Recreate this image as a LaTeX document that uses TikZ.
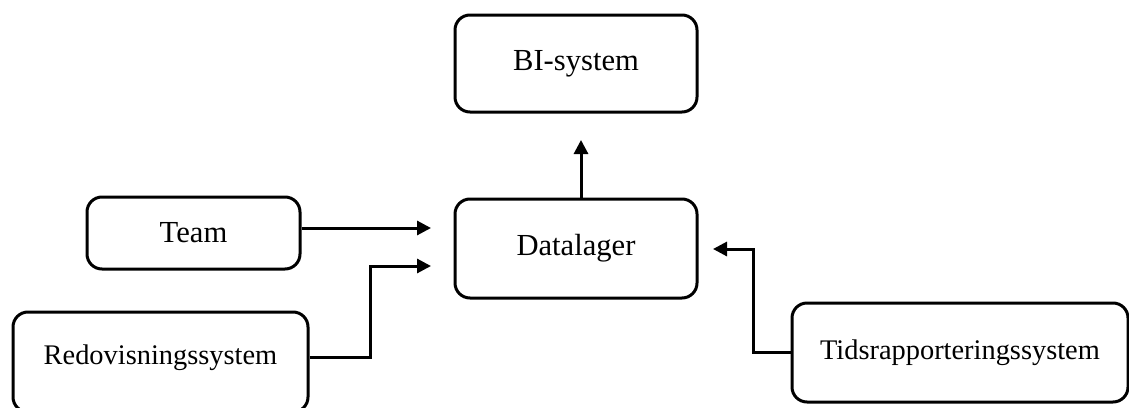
\documentclass[tikz,border=0pt]{standalone}
\usepackage{fontspec}
\setmainfont{Liberation Serif}
\usetikzlibrary{arrows.meta}

\begin{document}
\begin{tikzpicture}[x=0.5pt,y=-0.5pt,
        sysbox/.style={draw, line width=1.5pt, rounded corners=7.5pt, inner sep=0pt, align=center},
        bigbox/.style={sysbox, font=\fontsize{15.3}{18}\selectfont},
        smallbox/.style={sysbox, font=\fontsize{14.2}{17}\selectfont},
        smalltext/.style={inner sep=0pt, font=\fontsize{14.2}{17}\selectfont},
        flow/.style={line width=1.5pt, -{Triangle[length=7pt,width=7pt]}}]

                \useasboundingbox (0,0) rectangle (1129,407);

                % the boxes
                    \node[bigbox, minimum width=121pt, minimum height=48.5pt] (bi) at (576,63.5) {BI-system};
                    \node[bigbox, minimum width=121pt, minimum height=49.5pt] (datalager) at (576,248.5) {Datalager};
                    \node[bigbox, minimum width=106.5pt, minimum height=36pt] (team) at (193.5,233) {Team};
                    \node[smallbox, minimum width=147.5pt, minimum height=50pt] (redov) at (160.5,362) {};
                    \node[smalltext] (redovtext) at (160.5,357.5) {Redovisningssystem};
                    \node[smallbox, minimum width=168pt, minimum height=49.5pt] (tids) at (960,352.5) {Tidsrapporteringssystem};

                % free ends of the arrows
                    \coordinate (teamin) at (431,228);
                    \coordinate (redbend) at (370,266);
                    \coordinate (redin) at (431,266);
                    \coordinate (biin) at (581,140);
                    \coordinate (tidsbend) at (753,249);
                    \coordinate (tidsin) at (713,249);

                % the arrows
                    \draw[flow] (team.east |- teamin) -- (teamin);
                    \draw[flow] (redov.east |- redovtext) -| (redbend) -- (redin);
                    \draw[flow] (datalager.north -| biin) -- (biin);
                    \draw[flow] (tids.west) -| (tidsbend) -- (tidsin);

\end{tikzpicture}
\end{document}
